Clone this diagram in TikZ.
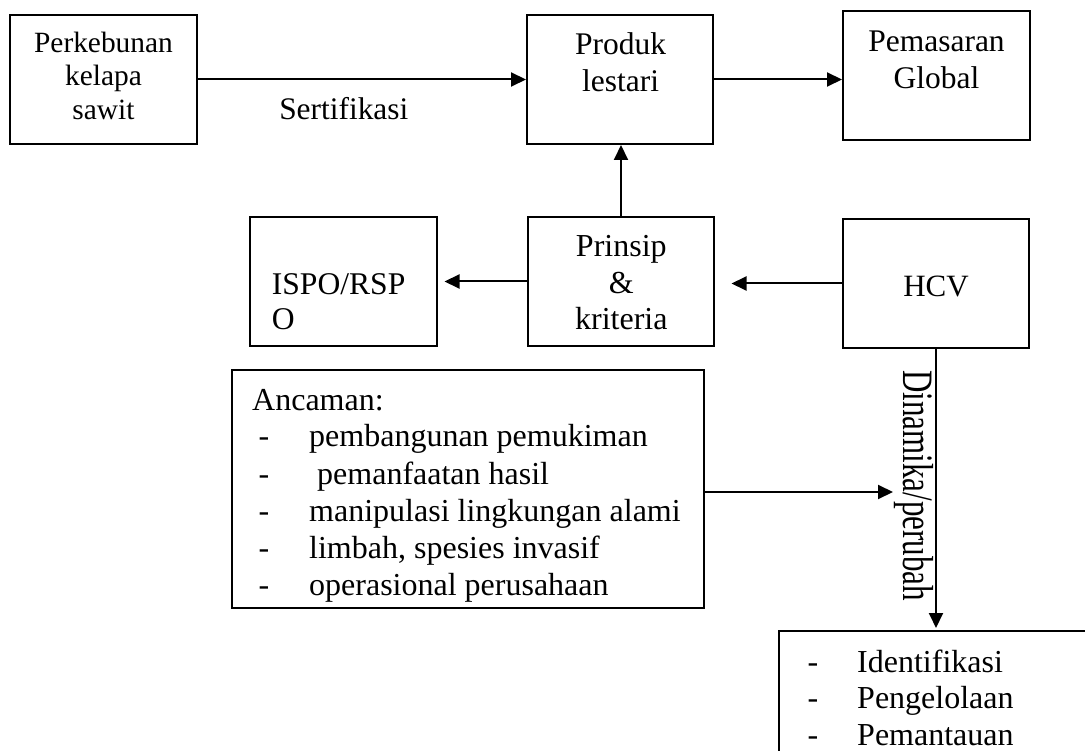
\documentclass[tikz,border=0pt]{standalone}
\usepackage{fontspec}
\setmainfont{Liberation Serif}
\usetikzlibrary{arrows.meta}
\newcommand{\fsz}[1]{\fontsize{#1}{#1}\selectfont}
\begin{document}
\begin{tikzpicture}[x=1pt,y=-1pt,
  box/.style={draw, rectangle, line width=2pt, inner sep=0pt},
  tc/.style={inner sep=0pt, anchor=base},
  tl/.style={inner sep=0pt, anchor=base west},
  arr/.style={line width=2pt, -{Triangle[length=15pt,width=14pt]}}]
\useasboundingbox (0,0) rectangle (1085,751);
\clip (0,0) rectangle (1085,751);
\fill[white] (0,0) rectangle (1085,751);
% boxes
\node[box, minimum width=187pt, minimum height=129pt] (perk) at (103.5,79.5) {};
\node[box, minimum width=186pt, minimum height=129pt] (prod) at (620,79.5) {};
\node[box, minimum width=187pt, minimum height=129pt] (pem) at (936.5,75.5) {};
\node[box, minimum width=187pt, minimum height=129pt] (ispo) at (343.5,281.5) {};
\node[box, minimum width=186pt, minimum height=129pt] (prin) at (621,281.5) {};
\node[box, minimum width=186pt, minimum height=129pt] (hcv) at (936,283.5) {};
\node[box, minimum width=472pt, minimum height=238pt] (anc) at (468,489) {};
\node[box, minimum width=321pt, minimum height=159pt] (bot) at (939.5,710.5) {};
% connectors
\draw[arr] (perk.east) -- (prod.west);
\draw[arr] (prod.east) -- (prod.east -| pem.west);
\draw[arr] (prin.north) -- (prin.north |- prod.south);
\draw[arr, shorten >=6.5pt] (prin.west) -- (ispo.east);
\draw[arr, shorten >=16.5pt] (hcv.west) -- (hcv.west -| prin.east);
\coordinate (dyn) at (893,492);
\draw[arr] (anc.east |- dyn) -- (dyn);
\draw[arr, shorten >=2pt] (hcv.south) -- (hcv.south |- bot.north);
% texts top row
\node[tc, font=\fsz{29.4}] (t1a) at (103.5,52.7) {Perkebunan};
\node[tc, font=\fsz{29.4}] (t1b) at (103.5,86) {kelapa};
\node[tc, font=\fsz{29.4}] (t1c) at (103.5,120) {sawit};
\node[tc, font=\fsz{31.4}] (sert) at (343.8,120) {Sertifikasi};
\node[tc, font=\fsz{31.5}] (t2a) at (620.5,55) {Produk};
\node[tc, font=\fsz{31.5}] (t2b) at (620.5,91.7) {lestari};
\node[tc, font=\fsz{31.5}] (t3a) at (936.5,51.7) {Pemasaran};
\node[tc, font=\fsz{31.5}] (t3b) at (936.5,88.3) {Global};
% middle row
\node[tl, font=\fsz{31.6}] (t4a) at (271.7,294.3) {ISPO/RSP};
\node[tl, font=\fsz{31.6}] (t4b) at (271.7,330) {O};
\node[tc, font=\fsz{32}] (t5a) at (621.3,256.7) {Prinsip};
\node[tc, font=\fsz{32}] (t5b) at (621.3,293.3) {\&};
\node[tc, font=\fsz{32}] (t5c) at (621.3,330) {kriteria};
\node[tc, font=\fsz{31}] (t6) at (936,296.7) {HCV};
\node[tc, font=\fsz{31}, rotate=-90] (dinl) at (903,485.5) {\scalebox{1}[1.4]{Dinamika/perubah}};
% threats box
\begin{scope}
\clip (233,371) rectangle (703,606);
\node[tl, font=\fsz{32}] (anh) at (252,410) {Ancaman:};
\node[tc, font=\fsz{32}] (d1) at (264,446.7) {-};
\node[tl, font=\fsz{32}] (a1) at (309,446.7) {pembangunan pemukiman};
\node[tc, font=\fsz{32}] (d2) at (264,484) {-};
\node[tl, font=\fsz{32}] (a2) at (317,484) {pemanfaatan hasil};
\node[tc, font=\fsz{32}] (d3) at (264,521.3) {-};
\node[tl, font=\fsz{32}] (a3) at (309,521.3) {manipulasi lingkungan alami};
\node[tc, font=\fsz{32}] (d4) at (264,558.3) {-};
\node[tl, font=\fsz{32}] (a4) at (309,558.3) {limbah, spesies invasif};
\node[tc, font=\fsz{32}] (d5) at (264,595.3) {-};
\node[tl, font=\fsz{32}] (a5) at (309,595.3) {operasional perusahaan};
\end{scope}
% bottom box
\node[tc, font=\fsz{32}] (e1) at (813,672) {-};
\node[tl, font=\fsz{32}] (b1) at (857,672) {Identifikasi};
\node[tc, font=\fsz{32}] (e2) at (813,708.3) {-};
\node[tl, font=\fsz{32}] (b2) at (857,708.3) {Pengelolaan};
\node[tc, font=\fsz{32}] (e3) at (813,745) {-};
\node[tl, font=\fsz{32}] (b3) at (857,745) {Pemantauan};
\end{tikzpicture}
\end{document}
